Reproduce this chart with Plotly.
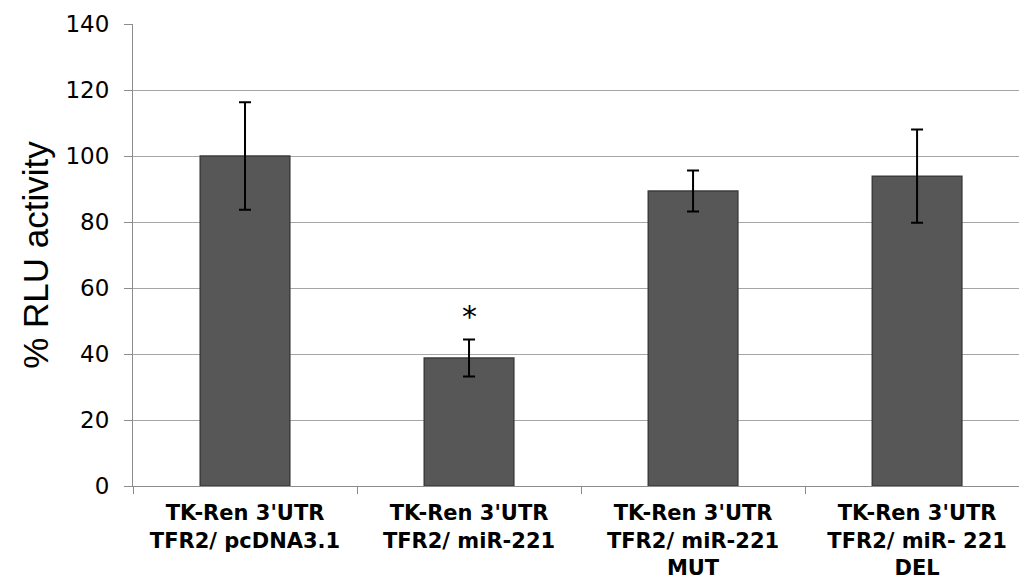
import plotly.graph_objects as go

categories = [
    "TK-Ren 3'UTR<br>TFR2/ pcDNA3.1",
    "TK-Ren 3'UTR<br>TFR2/ miR-221",
    "TK-Ren 3'UTR<br>TFR2/ miR-221<br>MUT",
    "TK-Ren 3'UTR<br>TFR2/ miR- 221<br>DEL",
]
values = [100.0, 38.8, 89.4, 93.9]
errors = [16.3, 5.6, 6.2, 14.1]
significance = ["", "*", "", ""]
y_ticks = [0, 20, 40, 60, 80, 100, 120, 140]

fig = go.Figure()
fig.add_trace(go.Bar(
    x=categories,
    y=values,
    width=0.4,
    marker=dict(color="#575757", line=dict(color="#3c3c3c", width=1.5)),
    error_y=dict(type="data", array=errors, visible=True,
                 color="black", thickness=2, width=6),
    showlegend=False,
))

for cat, v, e, s in zip(categories, values, errors, significance):
    if s:
        fig.add_annotation(x=cat, y=v + e, text=s, showarrow=False,
                           yanchor="bottom", yshift=3,
                           font=dict(family="DejaVu Sans", size=30, color="black"))

fig.update_layout(
    width=1019, height=579,
    margin=dict(l=133, r=0, t=24, b=93),
    paper_bgcolor="white", plot_bgcolor="white",
    bargap=0.6,
    font=dict(family="DejaVu Sans", color="black"),
)
fig.update_xaxes(
    type="category",
    range=[-0.5, 3.455],
    automargin=False,
    showline=True, linecolor="#8c8c8c", linewidth=1,
    ticks="outside", tickson="boundaries", ticklen=7, tickcolor="#8c8c8c",
    showgrid=False,
    ticklabelstandoff=8,
    tickfont=dict(family="DejaVu Sans", size=21, color="black", weight="bold"),
)
fig.update_yaxes(
    range=[0, 140], tickvals=y_ticks,
    automargin=False,
    showline=True, linecolor="#8c8c8c", linewidth=1,
    ticks="outside", ticklen=8, tickcolor="#8c8c8c",
    showgrid=True, gridcolor="#a6a6a6", gridwidth=1,
    zeroline=False,
    ticklabelstandoff=10,
    tickfont=dict(family="DejaVu Sans", size=23, color="black"),
    title=dict(text="% RLU activity", standoff=6,
               font=dict(family="Liberation Sans", size=35, color="black")),
)

fig.write_html("out.html")
